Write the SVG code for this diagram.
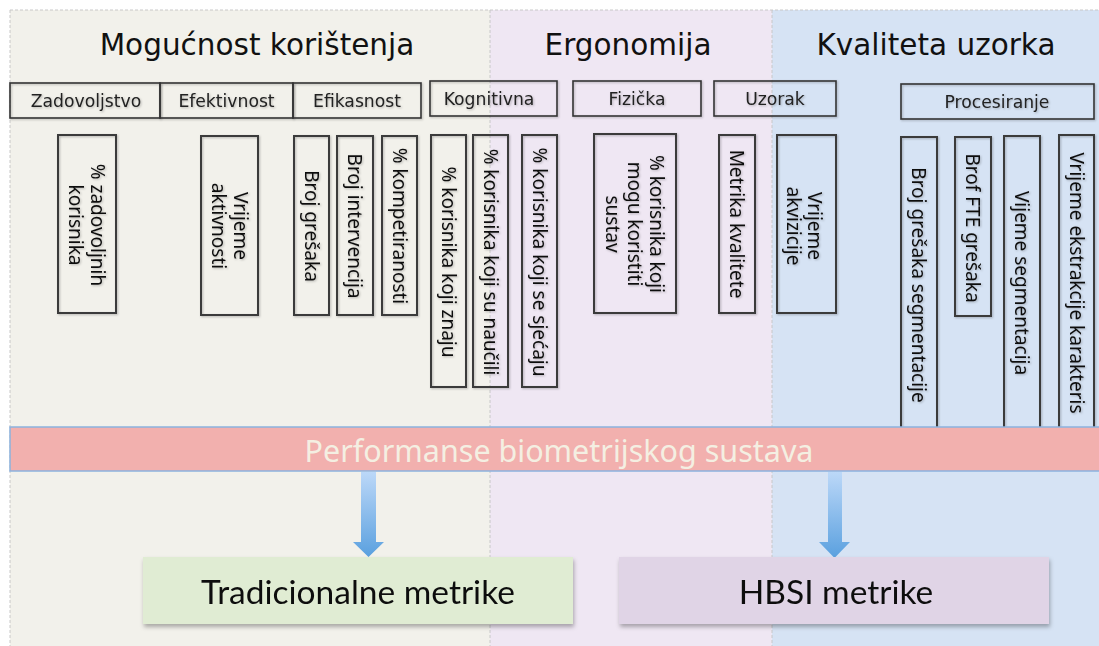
<svg xmlns="http://www.w3.org/2000/svg" width="1099" height="646" viewBox="0 0 1099 646">
<defs>
<style>
.title{font-family:"DejaVu Sans",sans-serif;font-size:29.5px;fill:#111;text-anchor:middle}
.cat{font-family:"DejaVu Sans",sans-serif;font-size:17.2px;fill:#222;text-anchor:middle}
.box{fill:none;stroke:#333;stroke-width:1.6}
.vbox{fill:none;stroke:#3a3a3a;stroke-width:2}
.vt{font-family:"Noto Sans",sans-serif;font-size:19px;fill:#111;text-anchor:middle;dominant-baseline:central}
.sep{stroke:#c8c8c8;stroke-width:1;stroke-dasharray:3 2}
.big{font-family:"Lato","Noto Sans",sans-serif;font-size:33.5px;fill:#111;text-anchor:middle}
</style>
<linearGradient id="arrowGrad" x1="0" y1="0" x2="0" y2="1">
<stop offset="0" stop-color="#bcd8f8"/>
<stop offset="1" stop-color="#5aa0df"/>
</linearGradient>
<filter id="sh" x="-5%" y="-10%" width="110%" height="130%">
<feDropShadow dx="1" dy="3" stdDeviation="2" flood-color="#000" flood-opacity="0.3"/>
</filter>
<filter id="sh2" x="-10%" y="-10%" width="120%" height="120%">
<feDropShadow dx="1" dy="1" stdDeviation="0.8" flood-color="#000" flood-opacity="0.25"/>
</filter>
</defs>
<rect width="1099" height="646" fill="#ffffff"/>
<g id="panels">
<rect x="10" y="10" width="480" height="636" fill="#f2f1eb"/>
<rect x="490" y="10" width="282" height="636" fill="#efe7f3"/>
<rect x="772" y="10" width="327" height="636" fill="#d6e3f4"/>
<line class="sep" x1="10" y1="10" x2="1099" y2="10"/>
<line class="sep" x1="10" y1="10" x2="10" y2="646"/>
<line class="sep" x1="490" y1="10" x2="490" y2="646"/>
<line class="sep" x1="772" y1="10" x2="772" y2="646"/>
</g>
<g id="titles">
<text class="title" x="257" y="55">Mogućnost korištenja</text>
<text class="title" x="628" y="55">Ergonomija</text>
<text class="title" x="936" y="55">Kvaliteta uzorka</text>
</g>
<g id="node-zadovoljstvo" filter="url(#sh2)"><rect class="box" x="10" y="83" width="150" height="35"/><text class="cat" x="86" y="107">Zadovoljstvo</text></g>
<g id="node-efektivnost" filter="url(#sh2)"><rect class="box" x="160" y="83" width="133" height="35"/><text class="cat" x="226.5" y="107">Efektivnost</text></g>
<g id="node-efikasnost" filter="url(#sh2)"><rect class="box" x="293" y="83" width="128" height="35"/><text class="cat" x="357" y="107">Efikasnost</text></g>
<g id="node-kognitivna" filter="url(#sh2)"><rect class="box" x="430" y="81" width="127" height="35"/><text class="cat" x="489" y="105">Kognitivna</text></g>
<g id="node-fizicka" filter="url(#sh2)"><rect class="box" x="573" y="81" width="128" height="35"/><text class="cat" x="637" y="105">Fizička</text></g>
<g id="node-uzorak" filter="url(#sh2)"><rect class="box" x="714" y="81" width="122" height="35"/><text class="cat" x="775" y="105">Uzorak</text></g>
<g id="node-procesiranje" filter="url(#sh2)"><rect class="box" x="901" y="84" width="193" height="35"/><text class="cat" x="997" y="108">Procesiranje</text></g>

<g id="node-zadovoljnih" filter="url(#sh2)"><rect class="vbox" x="58" y="135" width="58" height="178"/>
<text class="vt" transform="translate(87 225) rotate(90)"><tspan x="0" y="-11">% zadovoljnih</tspan><tspan x="0" y="11">korisnika</tspan></text></g>
<g id="node-vrijeme-aktivnosti" filter="url(#sh2)"><rect class="vbox" x="201" y="136" width="57" height="179"/>
<text class="vt" transform="translate(229.5 226) rotate(90)"><tspan x="0" y="-11">Vrijeme</tspan><tspan x="0" y="11">aktivnosti</tspan></text></g>
<g id="node-broj-gresaka" filter="url(#sh2)"><rect class="vbox" x="294" y="136" width="35" height="179"/>
<text class="vt" transform="translate(311.5 226) rotate(90)">Broj grešaka</text></g>
<g id="node-broj-intervencija" filter="url(#sh2)"><rect class="vbox" x="337" y="136" width="36" height="179"/>
<text class="vt" transform="translate(355 226) rotate(90)">Broj intervencija</text></g>
<g id="node-kompetiranosti" filter="url(#sh2)"><rect class="vbox" x="382" y="136" width="35" height="179"/>
<text class="vt" transform="translate(399.5 226) rotate(90)">% kompetiranosti</text></g>
<g id="node-znaju" filter="url(#sh2)"><rect class="vbox" x="431" y="135" width="35" height="252"/>
<text class="vt" transform="translate(448.5 262) rotate(90)">% korisnika koji znaju</text></g>
<g id="node-naucili" filter="url(#sh2)"><rect class="vbox" x="473" y="135" width="35" height="252"/>
<text class="vt" transform="translate(490.5 262) rotate(90)">% korisnika koji su naučili</text></g>
<g id="node-sjecaju" filter="url(#sh2)"><rect class="vbox" x="522" y="135" width="35" height="252"/>
<text class="vt" transform="translate(539.5 262) rotate(90)">% korisnika koji se sjećaju</text></g>
<g id="node-mogu-koristiti" filter="url(#sh2)"><rect class="vbox" x="594" y="134" width="82" height="179"/>
<text class="vt" transform="translate(635 224) rotate(90)"><tspan x="0" y="-22">% korisnika koji</tspan><tspan x="0" y="0">mogu koristiti</tspan><tspan x="0" y="22">sustav</tspan></text></g>
<g id="node-metrika-kvalitete" filter="url(#sh2)"><rect class="vbox" x="719" y="135" width="36" height="178"/>
<text class="vt" transform="translate(737 224) rotate(90)">Metrika kvalitete</text></g>
<g id="node-vrijeme-akvizicije" filter="url(#sh2)"><rect class="vbox" x="777" y="135" width="59" height="178"/>
<text class="vt" transform="translate(805 226) rotate(90)"><tspan x="0" y="-10">Vrijeme</tspan><tspan x="0" y="11">akvizicije</tspan></text></g>
<g id="node-gresaka-segmentacije" filter="url(#sh2)"><rect class="vbox" x="901" y="137" width="36" height="300"/>
<text class="vt" transform="translate(919 285) rotate(90)">Broj grešaka segmentacije</text></g>
<g id="node-fte" filter="url(#sh2)"><rect class="vbox" x="955" y="137" width="36" height="179"/>
<text class="vt" transform="translate(973 228) rotate(90)">Brof FTE grešaka</text></g>
<g id="node-vijeme-segmentacija" filter="url(#sh2)"><rect class="vbox" x="1004" y="136" width="36" height="301"/>
<text class="vt" transform="translate(1022 283) rotate(90)">Vijeme segmentacija</text></g>
<g id="node-ekstrakcije" filter="url(#sh2)"><rect class="vbox" x="1059" y="135" width="35" height="302"/>
<text class="vt" transform="translate(1076.5 283) rotate(90)">Vrijeme ekstrakcije karakteris</text></g>

<g id="node-performanse">
<rect x="10" y="427" width="1100" height="44" fill="#f2b0ae" stroke="#8cb2de" stroke-width="1.5"/>
<text x="559" y="462" font-family="'Noto Sans',sans-serif" font-size="30.5" fill="#f4efe2" text-anchor="middle">Performanse biometrijskog sustava</text>
</g>
<g id="connectors">
<path d="M361 472 L376 472 L376 542 L384 542 L368.5 557 L353 542 L361 542 Z" fill="url(#arrowGrad)"/>
<path d="M828 472 L842 472 L842 542 L850 542 L834.5 558 L819 542 L828 542 Z" fill="url(#arrowGrad)"/>
</g>
<g id="node-tradicionalne" filter="url(#sh)">
<rect x="143" y="557" width="430" height="67" fill="#e0ecd3"/>
<text class="big" x="358" y="604">Tradicionalne metrike</text>
</g>
<g id="node-hbsi" filter="url(#sh)">
<rect x="619" y="557" width="430" height="67" fill="#e0d4e6"/>
<text class="big" x="836" y="604">HBSI metrike</text>
</g>
</svg>
